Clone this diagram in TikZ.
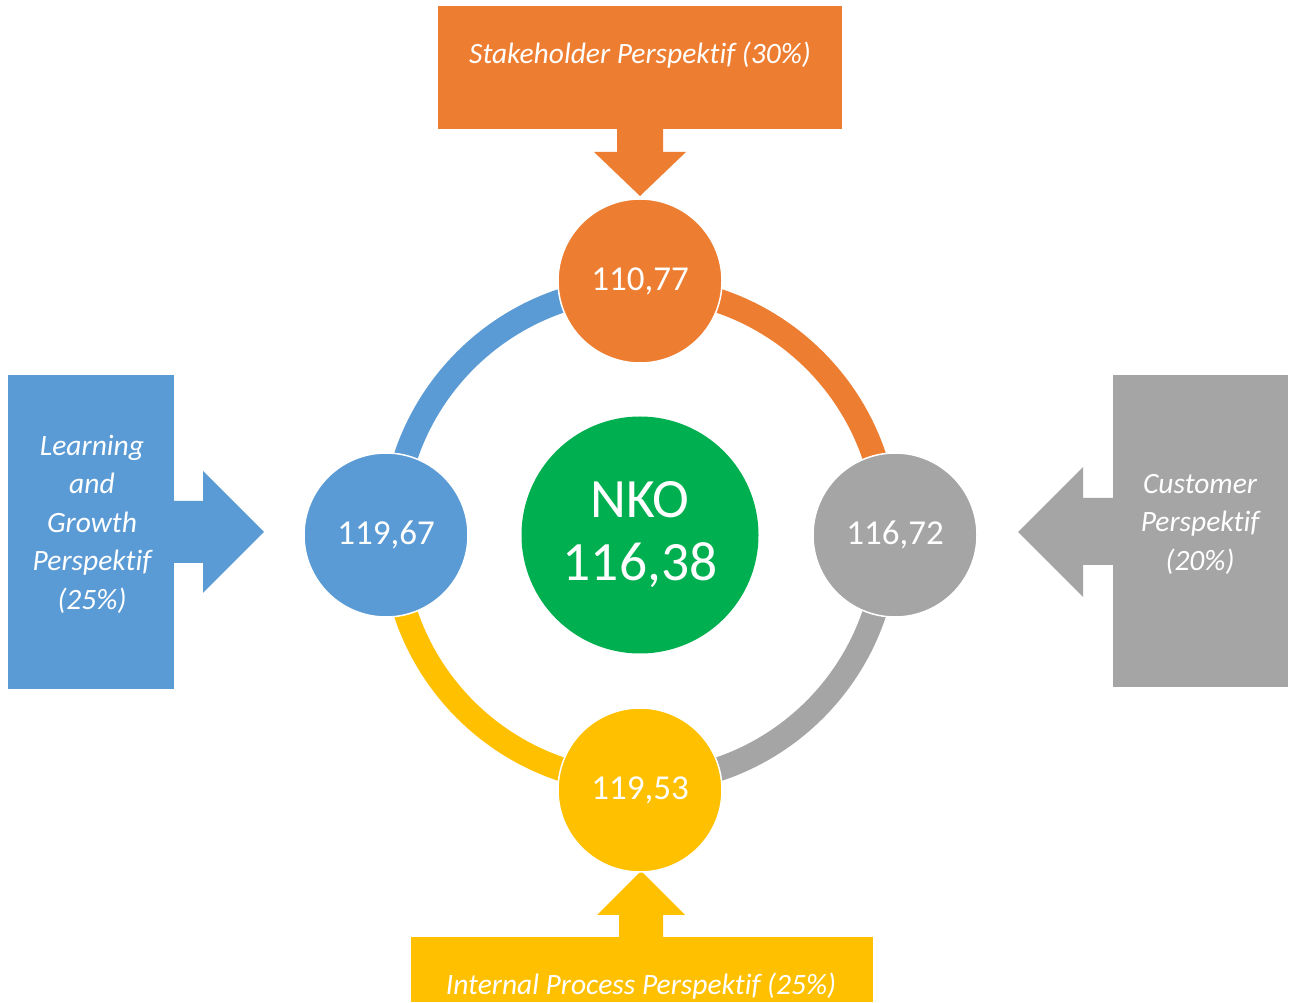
\documentclass[tikz,border=0pt]{standalone}
\usepackage{fontspec}
\setmainfont[Ligatures={NoCommon}]{Carlito}
\definecolor{corange}{HTML}{ED7D31}
\definecolor{cblue}{HTML}{5B9BD5}
\definecolor{cgray}{HTML}{A5A5A5}
\definecolor{cyellow}{HTML}{FFC000}
\definecolor{cgreen}{HTML}{00B050}
\begin{document}
\begin{tikzpicture}[x=1pt,y=1pt,
  txt/.style={text=white, font=\fontsize{29.5}{38.5}\selectfont\itshape, align=center, inner sep=0pt},
  ringarc/.style={line width=24pt, draw=#1},
  bubble/.style={circle, fill=#1, draw=white, line width=1.5pt, minimum size=164pt, inner sep=0pt, text=white, font=\fontsize{35}{40}\selectfont},
  hub/.style={circle, fill=cgreen, draw=none, minimum size=237pt, inner sep=0pt, text=white, align=center, font=\fontsize{55.5}{63}\selectfont}]
\useasboundingbox (0,0) rectangle (1294,1002);
\fill[white] (0,0) rectangle (1294,1002);
\coordinate (c) at (640,467);
% ring arcs
\draw[ringarc=cblue]   ([shift={(90:247)}]c) arc[start angle=90, end angle=180, radius=247];
\draw[ringarc=corange] ([shift={(0:247)}]c) arc[start angle=0, end angle=90, radius=247];
\draw[ringarc=cgray]   ([shift={(270:247)}]c) arc[start angle=270, end angle=360, radius=247];
\draw[ringarc=cyellow] ([shift={(180:247)}]c) arc[start angle=180, end angle=270, radius=247];
% boxes
\fill[corange] (438,873) rectangle (842,996);
\fill[cblue] (8,313) rectangle (174,627);
\fill[cgray] (1113,315) rectangle (1288,627);
\fill[cyellow] (411,0) rectangle (873,65);
% block arrows
\fill[corange] (617,874) -- (617,850) -- (594,850) -- (640,806) -- (686,850) -- (663,850) -- (663,874) -- cycle;
\fill[cblue] (173,501) -- (203,501) -- (203,531) -- (264,470) -- (203,409) -- (203,439) -- (173,439) -- cycle;
\fill[cgray] (1114,504) -- (1083,504) -- (1083,535) -- (1018,470) -- (1083,405) -- (1083,437) -- (1114,437) -- cycle;
\fill[cyellow] (619,64) -- (619,87) -- (597,87) -- (641,131) -- (685,87) -- (663,87) -- (663,64) -- cycle;
% circles
\node[bubble=corange] (top) at (640,721) {110,77};
\node[bubble=cblue] (left) at (386,467) {119,67};
\node[bubble=cgray] (right) at (895,467) {116,72};
\node[bubble=cyellow] (bottom) at (640,212) {119,53};
\node[hub] (nko) at (640,467) {NKO\\116,38};
% texts
\node[txt, anchor=base] (ttop) at (640,938) {Stakeholder Perspektif (30\%)};
\node[txt] (tleft) at (92,478) {Learning\\and\\Growth\\Perspektif\\(25\%)};
\node[txt] (tright) at (1200,478) {Customer\\Perspektif\\(20\%)};
\node[txt, anchor=base] (tbottom) at (641,7) {Internal Process Perspektif (25\%)};
\end{tikzpicture}
\end{document}
